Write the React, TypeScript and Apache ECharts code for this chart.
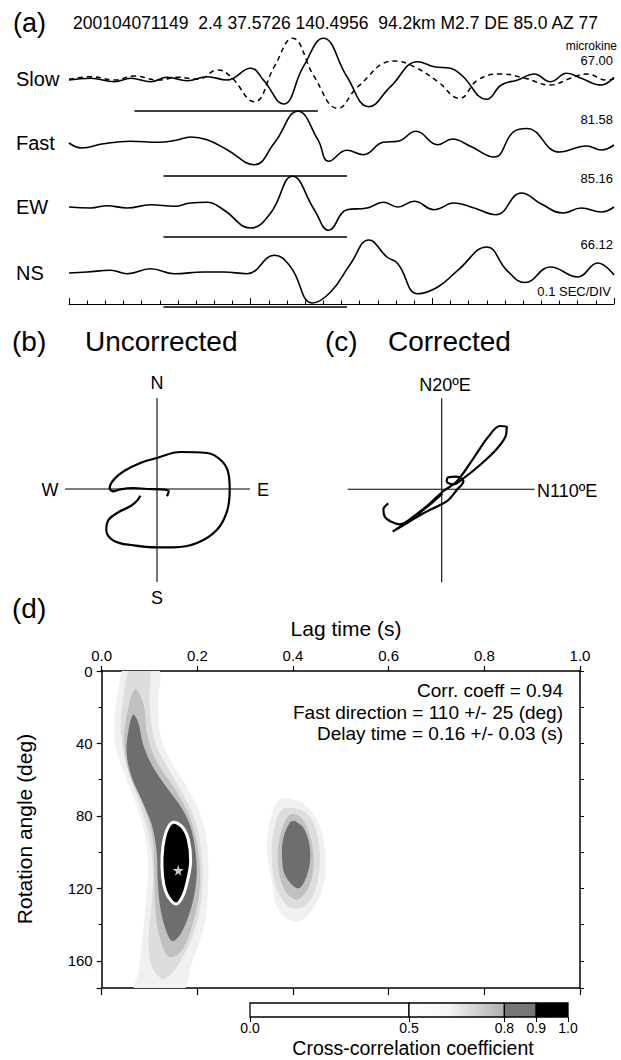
import React, { useEffect, useRef } from "react";
import * as echarts from "echarts";

const FONT = "Liberation Sans";

// ---------- (a) waveforms : [time (s), amplitude] ----------
const headerText = "200104071149  2.4 37.5726 140.4956  94.2km M2.7 DE 85.0 AZ 77";
const traceNames = ["Slow", "Fast", "EW", "NS"];
const peakLabels = ["67.00", "81.58", "85.16", "66.12"];
const unitLabel = "microkine";
const scaleLabel = "0.1 SEC/DIV";

const slowSolid = [
  [0, -1], [0.12, 0.7], [0.25, -2.7], [0.34, 0.7], [0.45, -2.7], [0.54, 1.7], [0.65, -1.7], [0.76, 2.3],
  [0.87, -1], [1.0, 10.7], [1.07, -1], [1.18, -25], [1.29, 12.3], [1.4, 40.7], [1.53, 2.3], [1.65, -27.7],
  [1.77, -7.7], [1.92, 17.3], [2.01, 12.3], [2.1, 10.7], [2.16, 4], [2.3, -20.3], [2.38, -6], [2.47, -1],
  [2.56, 5], [2.65, -2.7], [2.74, 5.7], [2.82, 0.7], [2.93, -6], [3.0, 1.7],
];
const slowDashed = [
  [0, -0.3], [0.12, 2.3], [0.25, -1], [0.36, 3], [0.49, -1], [0.6, 1.7], [0.71, -0.3], [0.82, 9],
  [0.89, 2.3], [1.02, -22.7], [1.13, 12.3], [1.23, 40.7], [1.35, 2.3], [1.48, -29.3], [1.59, -7.7],
  [1.79, 18], [1.9, 12.3], [2.03, -2.7], [2.15, -19.3], [2.25, -1], [2.38, 5], [2.51, 0.7], [2.65, -6],
  [2.76, 0.7], [2.85, 5], [2.96, -1], [3.0, 0],
];
const fastTrace = [
  [0, 0], [0.07, -5], [0.19, -0.7], [0.34, 1.7], [0.49, 0.7], [0.59, 2.7], [0.67, 6], [0.76, 3.3],
  [0.87, -6.7], [1.02, -21.7], [1.13, 0], [1.26, 31.7], [1.37, 3.3], [1.43, -18.3], [1.53, -7.3],
  [1.62, -11.7], [1.73, 0.7], [1.81, 1.7], [1.91, 11.7], [2.03, -1.7], [2.11, 4], [2.21, -3.3],
  [2.34, -14], [2.45, 11.7], [2.52, 14.5], [2.7, -9], [2.85, -3], [2.93, -7], [3.0, -2],
];
const ewTrace = [
  [0, 0], [0.12, -1], [0.21, 1.3], [0.32, -1], [0.45, 2.3], [0.58, 0.7], [0.67, 4], [0.76, 4.7],
  [0.85, -2.7], [1.0, -21], [1.11, -6], [1.23, 30.7], [1.35, -2.7], [1.43, -23.3], [1.53, -2.7],
  [1.64, -1], [1.73, 4.7], [1.81, 0], [1.9, 5.7], [2.01, -2.7], [2.12, 4], [2.23, -1], [2.35, -7.7],
  [2.49, 14], [2.6, 3], [2.72, -6], [2.82, -1], [2.93, -5], [3.0, 0],
];
const nsTrace = [
  [0, 0], [0.1, 1], [0.23, 2.7], [0.32, -0.7], [0.45, 4.3], [0.58, -0.7], [0.74, 1], [0.85, 1],
  [0.98, -0.7], [1.13, 17.7], [1.22, 6], [1.34, -30], [1.44, -19], [1.55, 9.3], [1.65, 33],
  [1.75, 16], [1.81, 9.3], [1.92, -20.7], [2.03, -14], [2.14, 2.7], [2.3, 26], [2.41, 2.7],
  [2.51, -9.5], [2.65, 6], [2.8, -4], [2.91, 10], [3.0, -2],
];
// analysis windows [start, end] (s) and the level at which each bar is drawn
const slowWindow = [0.36, 1.37];
const fastWindow = [0.52, 1.53];
const windowLevels = [-32, -33, -30, -34];

// ---------- (b) & (c) particle motion : [east, north] ----------
const uncorrectedLoop = [
  [10, -7.3], [11.7, -2.3], [3.3, -0.3], [-10, 0], [-23.3, 1], [-36.7, -0.3], [-43.3, -2.3], [-47.3, 1],
  [-43.3, 9.3], [-33.3, 17.7], [-16.7, 26], [0, 31], [23.3, 37], [50, 36], [65, 27.7], [71.7, 14.3],
  [72.7, -0.7], [70, -22.3], [60, -40.7], [40, -54], [16.7, -58.3], [0, -58.3], [-23.3, -56.3],
  [-43.3, -51.7], [-50.7, -40.7], [-48.3, -30.7], [-38.3, -23], [-26.7, -17.3], [-20, -11.7], [-16.7, -6.7],
];
const correctedLoop = [
  [-53.3, -14], [-58.3, -20], [-57, -27.3], [-51, -32.3], [-41.7, -35], [-28.3, -27.3], [-11.7, -14],
  [1.7, -1.7], [15, 7.7], [31.7, 31], [46.7, 52.7], [58.3, 63.3], [65, 62.7], [64.3, 54.3], [55, 40.3],
  [38.3, 24.3], [21.7, 11], [11.7, 5], [5, 7.7], [6.7, 12], [15, 12.7], [21.7, 7.7], [15, -0.7],
  [6.7, -10.7], [-1.7, -15.7], [-18.3, -24], [-35, -34], [-49, -42.3], [-41.7, -37.3], [-25, -25.7],
  [-8.3, -12.3], [1, -4],
];
const bAxisH = [[-92, 0], [93, 0]];
const bAxisV = [[0, 91], [0, -93]];
const cAxisH = [[-94, 0], [93, 0]];
const cAxisV = [[0, 91], [0, -93]];
const bLabels = ["N", "S", "W", "E"];
const cLabels = ["N20ºE", "N110ºE"];

// ---------- (d) cross-correlation map : [lag (s), rotation angle (deg)] ----------
const angleMax = 175;
const angleLabelStep = 40;
const outerLeft = [[0.05, -3], [0.035, 10], [0.028, 22], [0.028, 40], [0.045, 55], [0.07, 72], [0.09, 90], [0.097, 110], [0.092, 130], [0.085, 148], [0.078, 165], [0.07, 178], [0.165, 178], [0.19, 160], [0.215, 140], [0.222, 120], [0.222, 100], [0.21, 82], [0.18, 65], [0.15, 52], [0.125, 38], [0.118, 20], [0.117, -3]];
const midLeft = [[0.062, -3], [0.045, 15], [0.04, 32], [0.05, 50], [0.075, 70], [0.098, 90], [0.107, 110], [0.104, 130], [0.098, 148], [0.105, 163], [0.13, 170], [0.165, 160], [0.198, 140], [0.21, 120], [0.208, 100], [0.195, 82], [0.165, 66], [0.135, 52], [0.11, 38], [0.1, 18], [0.098, -3]];
const innerLeft = [[0.07, 10], [0.052, 25], [0.047, 40], [0.058, 57], [0.085, 73], [0.105, 90], [0.11, 110], [0.112, 130], [0.122, 148], [0.142, 158], [0.168, 154], [0.19, 140], [0.205, 120], [0.202, 100], [0.186, 82], [0.155, 66], [0.115, 50], [0.095, 35], [0.087, 18]];
const darkLeft = [[0.066, 24], [0.056, 33], [0.052, 45], [0.062, 58], [0.085, 72], [0.105, 85], [0.115, 100], [0.117, 115], [0.122, 130], [0.133, 142], [0.147, 149], [0.163, 146], [0.182, 135], [0.196, 120], [0.198, 105], [0.188, 88], [0.168, 76], [0.135, 64], [0.105, 52], [0.086, 40], [0.077, 29]];
const peakLeft = [[0.149, 83.5], [0.136, 88], [0.128, 97], [0.126, 108], [0.13, 118], [0.14, 125], [0.156, 128.6], [0.17, 124], [0.18, 115], [0.186, 105], [0.181, 93], [0.168, 86]];
const outerRight = [[0.373, 71], [0.352, 82], [0.346, 100], [0.355, 115], [0.366, 130], [0.39, 137], [0.415, 138], [0.44, 132], [0.462, 120], [0.468, 105], [0.455, 85], [0.42, 73]];
const midRight = [[0.38, 76], [0.36, 88], [0.356, 104], [0.365, 120], [0.39, 130], [0.415, 131], [0.44, 125], [0.455, 110], [0.452, 92], [0.43, 79]];
const innerRight = [[0.39, 80], [0.37, 95], [0.37, 110], [0.385, 122], [0.41, 126], [0.435, 118], [0.443, 103], [0.432, 88], [0.412, 80]];
const darkRight = [[0.394, 83.5], [0.38, 92], [0.377, 102], [0.384, 113], [0.411, 120], [0.43, 112], [0.436, 100], [0.425, 88], [0.405, 83]];
// [polygon, level index]  level: 0 ~0.6, 1 ~0.7, 2 ~0.75, 3 0.8-0.9, 4 >0.9
const bands: [number[][], number][] = [
  [outerLeft, 0], [outerRight, 0], [midLeft, 1], [midRight, 1], [innerLeft, 2], [innerRight, 2],
  [darkLeft, 3], [darkRight, 3], [peakLeft, 4],
];
const bestFit = [[0.16, 110]];
const resultLines = ["Corr. coeff = 0.94", "Fast direction = 110 +/- 25 (deg)", "Delay time = 0.16 +/- 0.03 (s)"];

// colour scale
const cbStops = [0, 0.5, 0.8, 0.9, 1.0];

// ---------- styles ----------
const levelFill = ["#f0f0f0", "#dddddd", "#c0c0c0", "#6e6e6e", "#000000"];

function txt(text: string, x: number, y: number, size: number, align = "left", extra: any = {}) {
  return {
    type: "text",
    x,
    y,
    silent: true,
    ...extra,
    style: {
      text,
      fontSize: size,
      fontFamily: FONT,
      fill: "#000",
      align,
      verticalAlign: "middle",
      textAlign: align,
      textVerticalAlign: "middle",
    },
  };
}

function line(data: number[][], xi: number, yi: number, width = 1.5, smooth: number | boolean = false, type: any = "solid") {
  return {
    type: "line",
    xAxisIndex: xi,
    yAxisIndex: yi,
    data,
    symbol: "none",
    showSymbol: false,
    smooth,
    silent: true,
    clip: false,
    lineStyle: { color: "#000", width, type },
    z: 5,
  };
}

function buildOption(): any {
  const waveTop = [34, 98, 162, 228];
  const grids: any[] = waveTop.map((t) => ({ left: 69, width: 545, top: t, height: 90 }));
  grids.push({ left: 69, width: 545, top: 280, height: 24 }); // 4 time axis
  grids.push({ left: 57, top: 389, width: 200, height: 200 }); // 5 uncorrected
  grids.push({ left: 341.7, top: 389.3, width: 200, height: 200 }); // 6 corrected
  grids.push({ left: 101.7, top: 671, width: 478.3, height: 317 }); // 7 map
  grids.push({ left: 250, top: 1003, width: 318, height: 14 }); // 8 colour bar
  grids.forEach((g) => {
    g.containLabel = false;
    g.outerBoundsMode = "none";
  });

  const hidden = (gi: number, min: number, max: number) => ({ type: "value", gridIndex: gi, min, max, show: false });

  const xAxis: any[] = [
    hidden(0, 0, 3), hidden(1, 0, 3), hidden(2, 0, 3), hidden(3, 0, 3),
    {
      type: "value", gridIndex: 4, min: 0, max: 3, interval: 0.1, position: "bottom",
      axisLine: { lineStyle: { color: "#000", width: 1 } },
      axisTick: { inside: true, length: 3.5, lineStyle: { color: "#000", width: 1 } },
      axisLabel: { show: false }, splitLine: { show: false },
    },
    {
      type: "value", gridIndex: 4, min: 0, max: 3, interval: 1, position: "bottom",
      axisLine: { show: false },
      axisTick: { inside: true, length: 6, lineStyle: { color: "#000", width: 1 } },
      axisLabel: { show: false }, splitLine: { show: false },
    },
    hidden(5, -100, 100),
    hidden(6, -100, 100),
    {
      type: "value", gridIndex: 7, min: 0, max: 1, interval: 0.2, position: "top",
      axisLine: { onZero: false, lineStyle: { color: "#000", width: 1.5 } },
      axisTick: { length: 5, lineStyle: { color: "#000", width: 1.2 } },
      axisLabel: { margin: 8, fontSize: 15, fontFamily: FONT, color: "#000", formatter: (v: number) => v.toFixed(1) },
      splitLine: { show: false },
    },
    {
      type: "value", gridIndex: 7, min: 0, max: 1, interval: 0.2, position: "bottom",
      axisLine: { onZero: false, lineStyle: { color: "#000", width: 1.5 } },
      axisTick: { length: 7, lineStyle: { color: "#000", width: 1.2 } },
      axisLabel: { show: false }, splitLine: { show: false },
    },
    {
      type: "value", gridIndex: 8, min: 0, max: 1, position: "bottom",
      axisLine: { show: false },
      axisTick: { show: true, customValues: cbStops, length: 5, lineStyle: { color: "#000", width: 1 } },
      axisLabel: { customValues: cbStops, margin: 4, fontSize: 14, fontFamily: FONT, color: "#000", formatter: (v: number) => v.toFixed(1) },
      splitLine: { show: false },
    },
  ];

  const yAxis: any[] = [
    hidden(0, -45, 45), hidden(1, -45, 45), hidden(2, -45, 45), hidden(3, -45, 45),
    hidden(4, 0, 1),
    hidden(5, -100, 100),
    hidden(6, -100, 100),
    {
      type: "value", gridIndex: 7, min: 0, max: angleMax, interval: 40, inverse: true, position: "left",
      axisLine: { onZero: false, lineStyle: { color: "#000", width: 1.5 } },
      axisTick: { length: 5, lineStyle: { color: "#000", width: 1.2 } },
      minorTick: { show: true, splitNumber: 2, length: 3, lineStyle: { color: "#000", width: 1 } },
      axisLabel: {
        margin: 9, fontSize: 15, fontFamily: FONT, color: "#000", showMaxLabel: false,
        formatter: (v: number) => (v % angleLabelStep === 0 ? String(v) : ""),
      },
      splitLine: { show: false }, minorSplitLine: { show: false },
    },
    {
      type: "value", gridIndex: 7, min: 0, max: angleMax, interval: 20, inverse: true, position: "right",
      axisLine: { onZero: false, lineStyle: { color: "#000", width: 1.5 } },
      axisTick: { length: 4, lineStyle: { color: "#000", width: 1 } },
      axisLabel: { show: false }, splitLine: { show: false },
    },
    hidden(8, 0, 1),
  ];

  const traces = [slowSolid, fastTrace, ewTrace, nsTrace];
  const windows = [slowWindow, fastWindow, fastWindow, fastWindow];
  const series: any[] = [];
  traces.forEach((tr, i) => {
    series.push(line(tr, i, i, 1.6, 0.45));
    const w = windows[i];
    series.push(line([[w[0], windowLevels[i]], [w[1], windowLevels[i]]], i, i, 1.3));
  });
  series.push(line(slowDashed, 0, 0, 1.5, 0.45, [5, 4]));

  // particle motion
  series.push(line(bAxisH, 6, 5, 1.1));
  series.push(line(bAxisV, 6, 5, 1.1));
  series.push(line(uncorrectedLoop, 6, 5, 2.2, 0.4));
  series.push(line(cAxisH, 7, 6, 1.1));
  series.push(line(cAxisV, 7, 6, 1.1));
  series.push(line(correctedLoop, 7, 6, 2.2, 0.35));

  // cross-correlation map
  series.push({
    type: "custom",
    xAxisIndex: 8,
    yAxisIndex: 7,
    clip: true,
    silent: true,
    data: bands.map((_, i) => [i]),
    renderItem: (_params: any, api: any) => {
      const [pts, lvl] = bands[api.value(0)];
      const points = pts.map((p) => api.coord(p));
      return {
        type: "polygon",
        shape: { points, smooth: 0.35 },
        style: {
          fill: levelFill[lvl],
          stroke: lvl === 4 ? "#ffffff" : null,
          lineWidth: lvl === 4 ? 3 : 0,
        },
      };
    },
    z: 2,
  });
  series.push({
    type: "scatter",
    xAxisIndex: 8,
    yAxisIndex: 7,
    data: bestFit,
    symbol: "path://M50,0 L61,35 L98,35 L68,57 L79,91 L50,70 L21,91 L32,57 L2,35 L39,35 Z",
    symbolSize: 11,
    itemStyle: { color: "#ffffff" },
    silent: true,
    z: 6,
  });

  // colour bar
  const cbFills: any[] = [
    "#ffffff",
    new echarts.graphic.LinearGradient(0, 0, 1, 0, [
      { offset: 0, color: "#ffffff" },
      { offset: 0.4, color: "#f6f6f6" },
      { offset: 1, color: "#b0b0b0" },
    ]),
    "#777777",
    "#000000",
  ];
  series.push({
    type: "custom",
    xAxisIndex: 10,
    yAxisIndex: 9,
    silent: true,
    clip: false,
    data: cbStops.slice(0, -1).map((s, i) => [s, cbStops[i + 1], i]),
    renderItem: (_params: any, api: any) => {
      const a = api.coord([api.value(0), 1]);
      const b = api.coord([api.value(1), 0]);
      return {
        type: "rect",
        shape: { x: a[0], y: a[1], width: b[0] - a[0], height: b[1] - a[1] },
        style: { fill: cbFills[api.value(2)], stroke: "#000", lineWidth: 1.3 },
      };
    },
  });

  const graphic: any[] = [
    txt("(a)", 13, 23, 27),
    txt(headerText, 73, 23, 17.5),
    txt(unitLabel, 617, 46, 12, "right"),
    txt(peakLabels[0], 613, 60, 13, "right"),
    txt(peakLabels[1], 613, 119, 13, "right"),
    txt(peakLabels[2], 613, 178, 13, "right"),
    txt(peakLabels[3], 613, 244, 13, "right"),
    txt(scaleLabel, 611, 291, 13, "right"),
    txt(traceNames[0], 16, 79, 20),
    txt(traceNames[1], 16, 143, 20),
    txt(traceNames[2], 16, 207, 20),
    txt(traceNames[3], 16, 273, 20),
    txt("(b)", 12, 341, 28),
    txt("Uncorrected", 85, 341, 28),
    txt("(c)", 325, 341, 28),
    txt("Corrected", 388, 341, 28),
    txt(bLabels[0], 157, 383, 18, "center"),
    txt(bLabels[1], 157, 598, 18, "center"),
    txt(bLabels[2], 50, 490, 18, "center"),
    txt(bLabels[3], 263, 490, 18, "center"),
    txt(cLabels[0], 445, 385, 18, "center"),
    txt(cLabels[1], 537, 491, 18, "left"),
    txt("(d)", 12, 608, 28),
    txt("Lag time (s)", 346, 628, 21, "center"),
    txt("Rotation angle (deg)", 24, 829, 21, "center", { rotation: Math.PI / 2 }),
    txt(resultLines[0], 563, 690, 19, "right"),
    txt(resultLines[1], 563, 712, 19, "right"),
    txt(resultLines[2], 563, 733, 19, "right"),
    txt("Cross-correlation coefficient", 413, 1048, 19.5, "center"),
  ];

  return {
    animation: false,
    backgroundColor: "#ffffff",
    textStyle: { fontFamily: FONT },
    grid: grids,
    xAxis,
    yAxis,
    series,
    graphic: { elements: graphic },
  };
}

export default function App() {
  const ref = useRef<HTMLDivElement>(null);
  useEffect(() => {
    if (!ref.current) return;
    const chart = echarts.init(ref.current, null, { renderer: "svg" });
    chart.setOption(buildOption());
    return () => chart.dispose();
  }, []);
  return (
    <div
      ref={ref}
      style={{ position: "absolute", left: 0, top: 0, width: 621, height: 1060, background: "#fff" }}
    />
  );
}
